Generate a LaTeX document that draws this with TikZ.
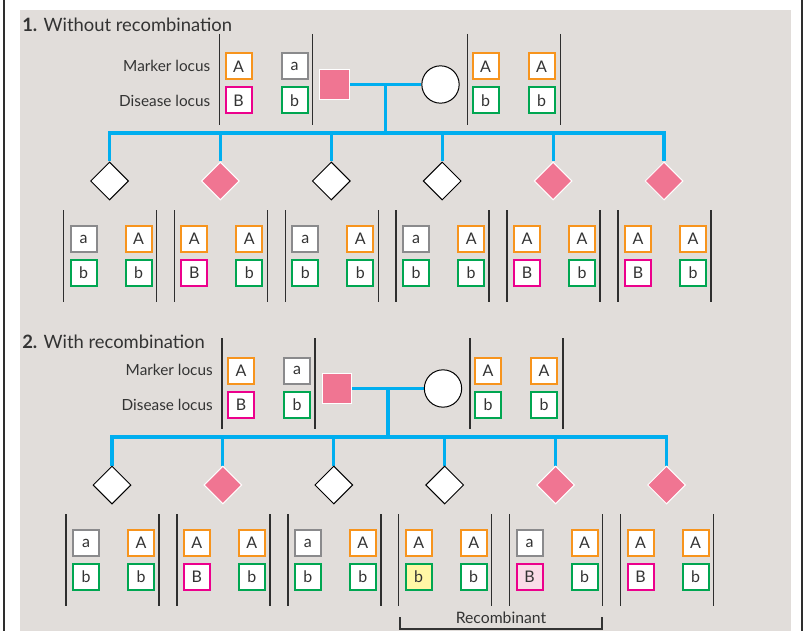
\documentclass[tikz,border=0pt]{standalone}
\usepackage{fontspec}
\setmainfont{Lato}
\usetikzlibrary{shapes.geometric}
\definecolor{bgc}{HTML}{E1DDDA}
\definecolor{orng}{HTML}{F7941D}
\definecolor{grayb}{HTML}{8A8A8C}
\definecolor{mag}{HTML}{EC008C}
\definecolor{grn}{HTML}{00A651}
\definecolor{blu}{HTML}{00AEEF}
\definecolor{pnk}{HTML}{F07592}
\definecolor{ylw}{HTML}{FFF7A6}
\definecolor{lpink}{HTML}{FADCE8}
\definecolor{barc}{HTML}{2E2E2E}
\definecolor{txt}{HTML}{333333}
\pgfdeclarelayer{bgrect}
\pgfdeclarelayer{background}
\pgfsetlayers{bgrect,background,main}
\tikzset{
 al/.style={draw, line width=1.5pt, fill=white, minimum size=19.5pt, inner sep=0pt, font=\fontsize{12}{14}\selectfont, text=txt},
 al-A/.style={al, draw=orng, node contents=A},
 al-a/.style={al, draw=grayb, node contents=a},
 al-B/.style={al, draw=mag, node contents=B},
 al-b/.style={al, draw=grn, node contents=b},
 al-bY/.style={al, draw=grn, fill=ylw, node contents=b},
 al-BP/.style={al, draw=mag, fill=lpink, node contents=B},
 kidU/.style={diamond, draw=black, line width=0.75pt, fill=white, minimum size=28.5pt, inner sep=0pt},
 kidA/.style={diamond, draw=white, line width=0.75pt, fill=pnk, minimum size=28.5pt, inner sep=0pt},
 father/.style={rectangle, draw=white, line width=0.75pt, fill=pnk, minimum size=22pt, inner sep=0pt},
 mother/.style={circle, draw=black, line width=0.75pt, fill=white, minimum size=28pt, inner sep=0pt},
 kin/.style={draw=blu, line width=2.3pt},
 bar/.style={draw=barc, line width=1.1pt},
 lbl/.style={font=\fontsize{11.5}{13}\selectfont, text=txt, anchor=east, inner sep=0pt},
 ttl/.style={font=\fontsize{13.8}{16}\selectfont, text=txt, anchor=west, inner sep=0pt},
}
\newcommand\mypedigree[2]{%
 \node[lbl] (#1lm) at (213,370) {Marker locus};
 \node[lbl] (#1ld) at (213,404.5) {Disease locus};
 \draw[bar] (222,338) -- (222,429);
 \draw[bar] (315,338) -- (315,429);
 \node (#1f1) at (241,370.5) [al-A];
 \node (#1f2) at (241,404.5) [al-B];
 \node (#1f3) at (297,370.5) [al-a];
 \node (#1f4) at (297,404.5) [al-b];
 \node[father] (#1F) at (337,388.5) {};
 \node[mother] (#1M) at (443,388.5) {};
 \draw[bar] (470,338) -- (470,429);
 \draw[bar] (563,338) -- (563,429);
 \node (#1m1) at (488,370.5) [al-A];
 \node (#1m2) at (488,404.5) [al-b];
 \node (#1m3) at (544,370.5) [al-A];
 \node (#1m4) at (544,404.5) [al-b];
 \foreach \i/\ds/\tl/\bl/\tr/\br in {#2}{%
  \pgfmathsetmacro\cx{113+110.9*\i}
  \node[\ds] (#1d\i) at (\cx-1,485) {};
  \draw[bar] (\cx-47,514) -- (\cx-47,606);
  \draw[bar] (\cx+46,514) -- (\cx+46,606);
  \node (#1tl\i) at (\cx-27,543) [\tl];
  \node (#1bl\i) at (\cx-27,577) [\bl];
  \node (#1tr\i) at (\cx+28,543) [\tr];
  \node (#1br\i) at (\cx+28,577) [\br];
 }
 \coordinate (#1sib) at (0,437);
 \coordinate (#1cm) at (388,388.5);
 \begin{pgfonlayer}{background}
  \draw[kin] (#1F) -- (#1M);
  \draw[kin] (#1cm) -- (#1cm |- #1sib);
  \draw[kin] (#1d0.north) -- (#1d0.north |- #1sib) -- (#1d5.north |- #1sib) -- (#1d5.north);
  \foreach \j in {1,...,4}{\draw[kin] (#1d\j.north |- #1sib) -- (#1d\j.north);}
 \end{pgfonlayer}
}
\begin{document}
\begin{tikzpicture}[x=0.75pt,y=-0.75pt]
\useasboundingbox (0,0) rectangle (806,631);
\begin{pgfonlayer}{bgrect}
 \fill[white] (0,0) rectangle (806,631);
 \fill[bgc] (20,10) rectangle (791,631);
\end{pgfonlayer}
\draw[barc, line width=1.1pt] (4,0) -- (4,631);
\draw[barc, line width=1.1pt] (802,0) -- (802,631);
\node[ttl] (t1) at (22,25) {\textbf{1.} Without recombination};
\node[ttl] (t2) at (22,342) {\textbf{2.} With recombination};
\begin{scope}[shift={(-2.5,-304)}]
 \mypedigree{s1}{0/kidU/al-a/al-b/al-A/al-b, 1/kidA/al-A/al-B/al-A/al-b, 2/kidU/al-a/al-b/al-A/al-b, 3/kidU/al-a/al-b/al-A/al-b, 4/kidA/al-A/al-B/al-A/al-b, 5/kidA/al-A/al-B/al-A/al-b}
\end{scope}
\mypedigree{s2}{0/kidU/al-a/al-b/al-A/al-b, 1/kidA/al-A/al-B/al-A/al-b, 2/kidU/al-a/al-b/al-A/al-b, 3/kidU/al-A/al-bY/al-A/al-b, 4/kidA/al-a/al-BP/al-A/al-b, 5/kidA/al-A/al-B/al-A/al-b}
\coordinate (rl) at (400,617);
\coordinate (rr) at (602,617);
\draw[draw=txt, line width=0.8pt] (rl) -- (rl |- 0,629) -- (rr |- 0,629) -- (rr);
\node[font=\fontsize{11.8}{13}\selectfont, text=txt, inner sep=0pt] (rec) at (501,618) {Recombinant};
\end{tikzpicture}
\end{document}
